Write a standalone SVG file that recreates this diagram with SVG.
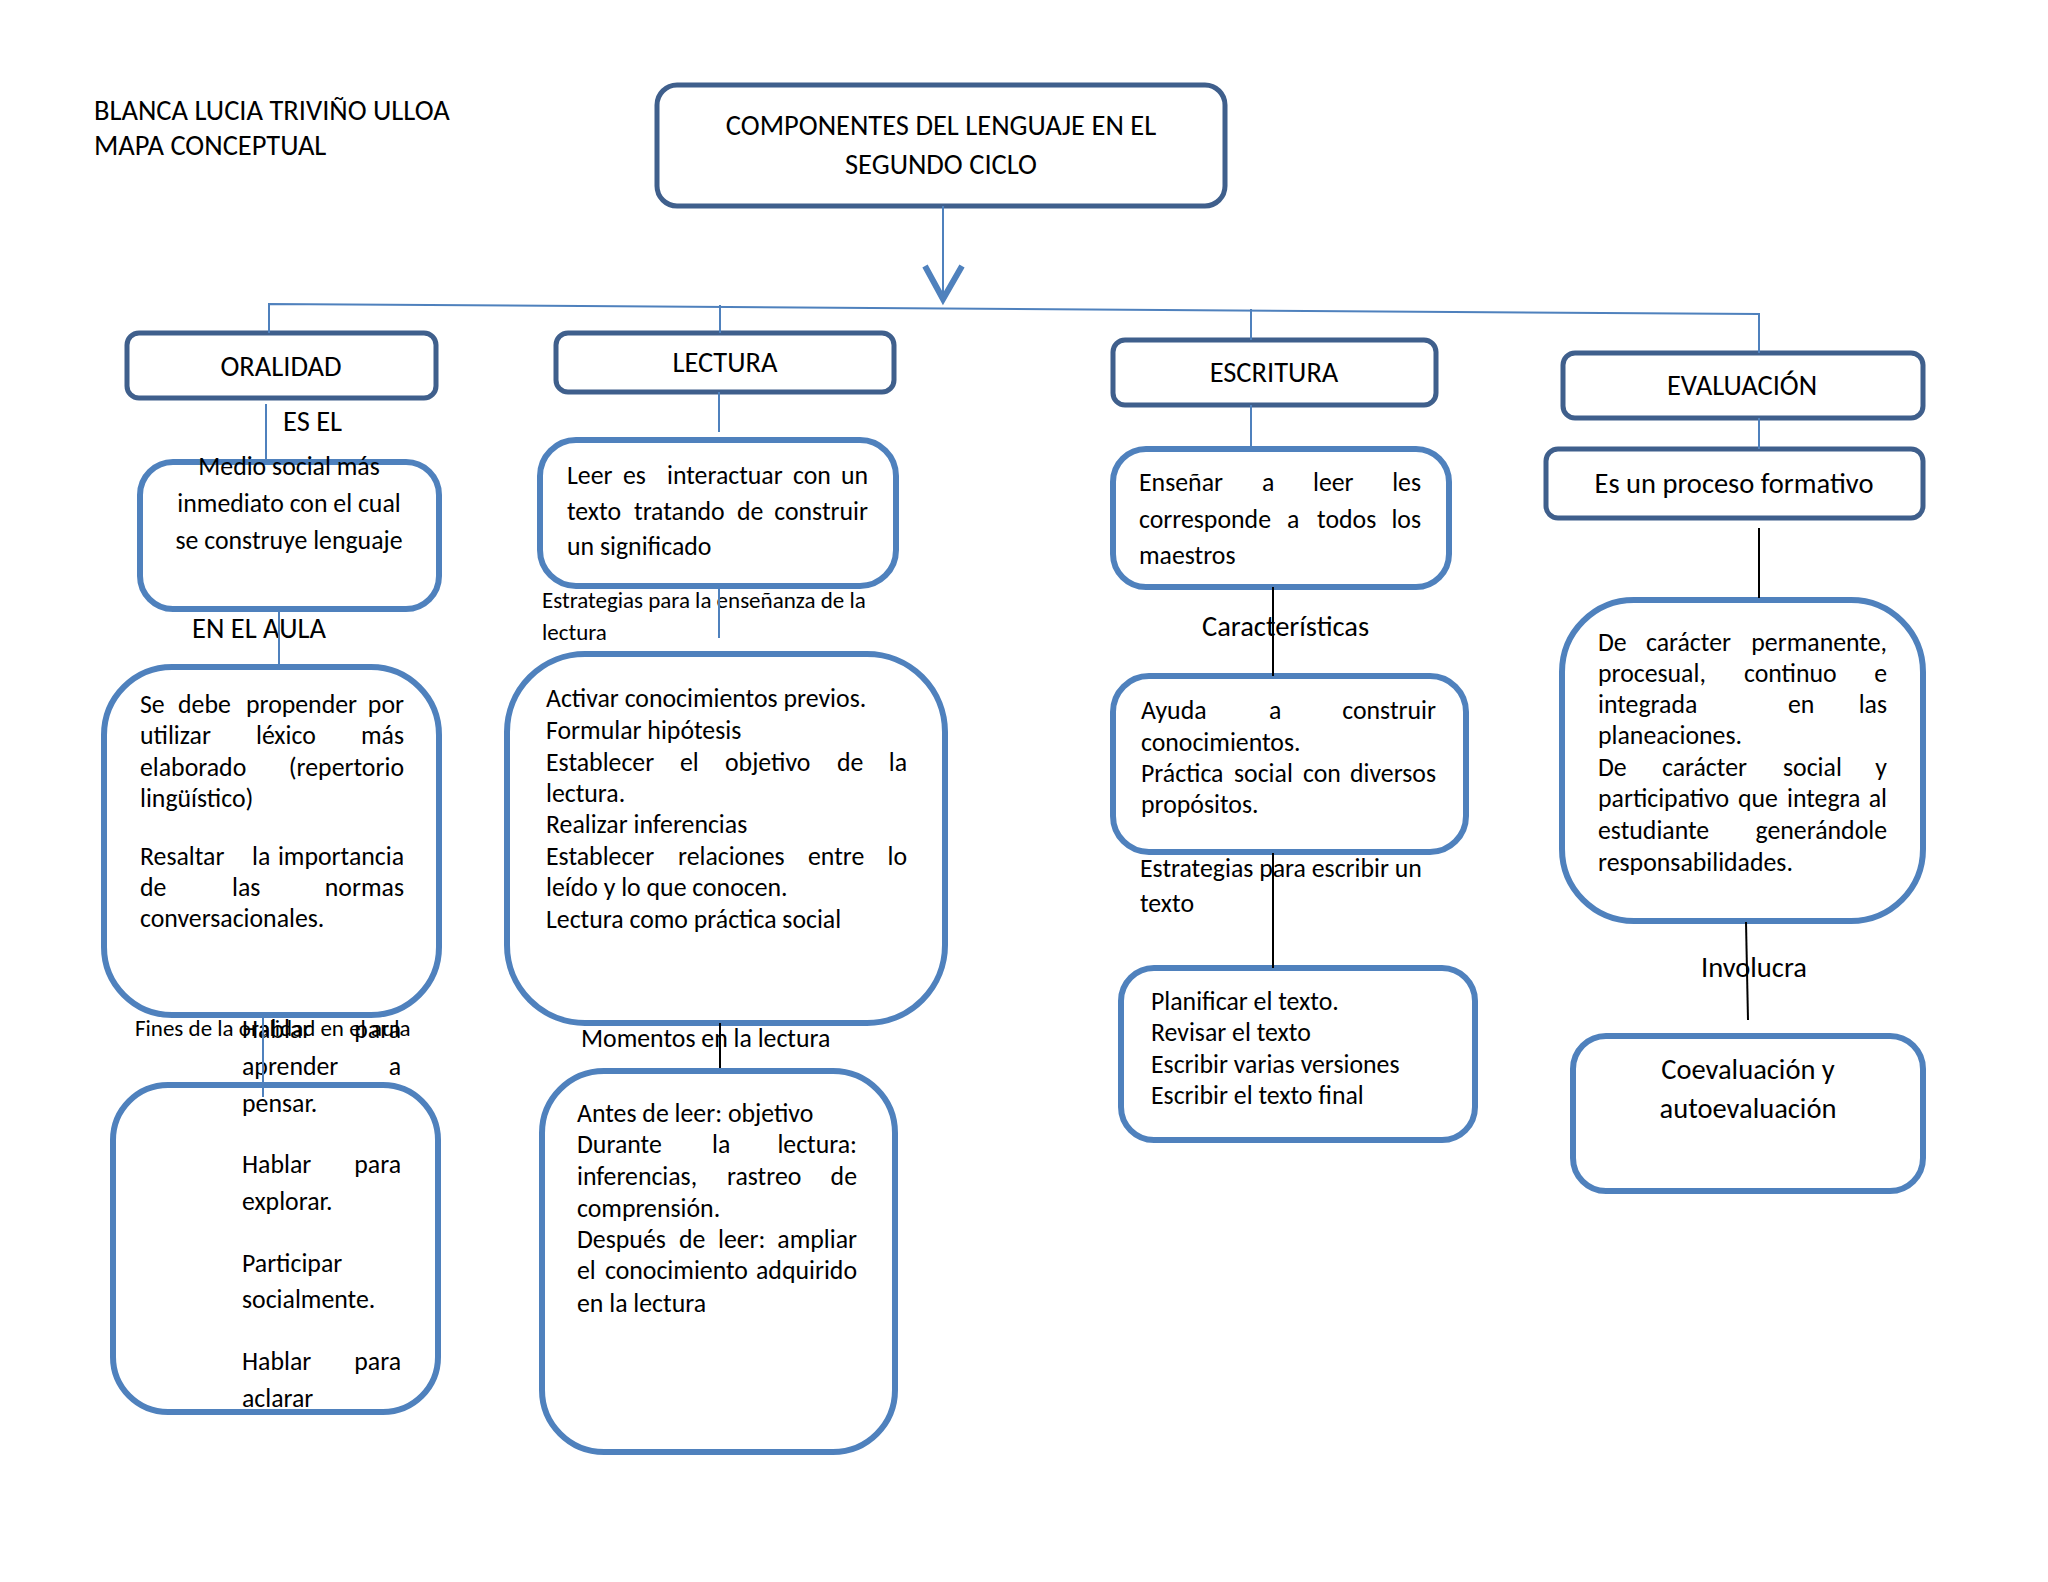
<svg xmlns="http://www.w3.org/2000/svg" width="2048" height="1582" viewBox="0 0 2048 1582">
<style>
.hdr{fill:#fff;stroke:#3F5F8C;stroke-width:5}
.box{fill:#fff;stroke:#4F81BD;stroke-width:6}
text{font-family:Carlito,Lato,"Liberation Sans",sans-serif;fill:#000}
.h{font-size:28.5px}
.b{font-size:25.8px}
.s{font-size:23px}
.l{font-size:28.5px}
.c{text-anchor:middle}
.e{text-anchor:end}
.cb{stroke:#4F81BD;stroke-width:2;fill:none}
.ck{stroke:#000;stroke-width:2;fill:none}
</style>
<rect width="2048" height="1582" fill="#fff"/>
<g id="author">
<text class="h" x="94" y="120">BLANCA LUCIA TRIVIÑO ULLOA</text>
<text class="h" x="94" y="155">MAPA CONCEPTUAL</text>
</g>
<g id="title">
<rect class="hdr" x="657" y="85" width="568" height="121" rx="20"/>
<text class="h c" x="941" y="135">COMPONENTES DEL LENGUAJE EN EL</text>
<text class="h c" x="941" y="174">SEGUNDO CICLO</text>
</g>
<g id="oralidad">
<rect class="hdr" x="127" y="333" width="309" height="65" rx="12"/>
<text class="h c" x="281" y="376">ORALIDAD</text>
</g>
<g id="lectura">
<rect class="hdr" x="556" y="333" width="338" height="59" rx="12"/>
<text class="h c" x="725" y="372">LECTURA</text>
</g>
<g id="escritura">
<rect class="hdr" x="1113" y="340" width="323" height="65" rx="12"/>
<text class="h c" x="1274" y="382">ESCRITURA</text>
</g>
<g id="evaluacion">
<rect class="hdr" x="1563" y="353" width="360" height="65" rx="12"/>
<text class="h c" x="1742" y="395">EVALUACIÓN</text>
</g>
<g id="medio">
<rect class="box" x="140" y="462" width="299" height="147" rx="33"/>
<text class="b c" x="289" y="475">Medio social más</text>
<text class="b c" x="289" y="512">inmediato con el cual</text>
<text class="b c" x="289" y="549">se construye lenguaje</text>
</g>
<g id="aula">
<rect class="box" x="104" y="667" width="335" height="348" rx="68"/>
<text class="b" x="140" y="713">Se<tspan x="178">debe</tspan><tspan x="246">propender</tspan><tspan class="e" x="404">por</tspan></text>
<text class="b" x="140" y="744">utilizar<tspan x="256">léxico</tspan><tspan class="e" x="404">más</tspan></text>
<text class="b" x="140" y="776">elaborado<tspan class="e" x="404">(repertorio</tspan></text>
<text class="b" x="140" y="807">lingüístico)</text>
<text class="b" x="140" y="865">Resaltar<tspan x="252">la</tspan><tspan class="e" x="404">importancia</tspan></text>
<text class="b" x="140" y="896">de<tspan x="232">las</tspan><tspan class="e" x="404">normas</tspan></text>
<text class="b" x="140" y="927">conversacionales.</text>
</g>
<g id="fines">
<rect class="box" x="113" y="1085" width="325" height="327" rx="55"/>
<text class="b" x="242" y="1038">Hablar<tspan class="e" x="401">para</tspan></text>
<text class="b" x="242" y="1075">aprender<tspan class="e" x="401">a</tspan></text>
<text class="b" x="242" y="1112">pensar.</text>
<text class="b" x="242" y="1173">Hablar<tspan class="e" x="401">para</tspan></text>
<text class="b" x="242" y="1210">explorar.</text>
<text class="b" x="242" y="1272">Participar</text>
<text class="b" x="242" y="1308">socialmente.</text>
<text class="b" x="242" y="1370">Hablar<tspan class="e" x="401">para</tspan></text>
<text class="b" x="242" y="1407">aclarar</text>
</g>
<g id="leer">
<rect class="box" x="540" y="440" width="356" height="146" rx="36"/>
<text class="b" x="567" y="484">Leer<tspan x="623">es</tspan><tspan x="667">interactuar</tspan><tspan x="793">con</tspan><tspan class="e" x="868">un</tspan></text>
<text class="b" x="567" y="520">texto<tspan x="634">tratando</tspan><tspan x="737">de</tspan><tspan class="e" x="868">construir</tspan></text>
<text class="b" x="567" y="555">un significado</text>
</g>
<g id="activar">
<rect class="box" x="507" y="654" width="438" height="369" rx="78"/>
<text class="b" x="546" y="707">Activar conocimientos previos.</text>
<text class="b" x="546" y="739">Formular hipótesis</text>
<text class="b" x="546" y="771">Establecer<tspan x="680">el</tspan><tspan x="725">objetivo</tspan><tspan x="837">de</tspan><tspan class="e" x="907">la</tspan></text>
<text class="b" x="546" y="802">lectura.</text>
<text class="b" x="546" y="833">Realizar inferencias</text>
<text class="b" x="546" y="865">Establecer<tspan x="678">relaciones</tspan><tspan x="808">entre</tspan><tspan class="e" x="907">lo</tspan></text>
<text class="b" x="546" y="896">leído y lo que conocen.</text>
<text class="b" x="546" y="928">Lectura como práctica social</text>
</g>
<g id="momentos">
<rect class="box" x="542" y="1071" width="353" height="381" rx="62"/>
<text class="b" x="577" y="1122">Antes de leer: objetivo</text>
<text class="b" x="577" y="1153">Durante<tspan x="712">la</tspan><tspan class="e" x="857">lectura:</tspan></text>
<text class="b" x="577" y="1185">inferencias,<tspan x="727">rastreo</tspan><tspan class="e" x="857">de</tspan></text>
<text class="b" x="577" y="1217">comprensión.</text>
<text class="b" x="577" y="1248">Después<tspan x="679">de</tspan><tspan x="718">leer:</tspan><tspan class="e" x="857">ampliar</tspan></text>
<text class="b" x="577" y="1279">el<tspan x="605">conocimiento</tspan><tspan class="e" x="857">adquirido</tspan></text>
<text class="b" x="577" y="1312">en la lectura</text>
</g>
<g id="ensenar">
<rect class="box" x="1113" y="449" width="336" height="138" rx="33"/>
<text class="b" x="1139" y="491">Enseñar<tspan x="1262">a</tspan><tspan x="1313">leer</tspan><tspan class="e" x="1421">les</tspan></text>
<text class="b" x="1139" y="528">corresponde<tspan x="1287">a</tspan><tspan x="1317">todos</tspan><tspan class="e" x="1421">los</tspan></text>
<text class="b" x="1139" y="564">maestros</text>
</g>
<g id="ayuda">
<rect class="box" x="1113" y="676" width="353" height="176" rx="36"/>
<text class="b" x="1141" y="719">Ayuda<tspan x="1269">a</tspan><tspan class="e" x="1436">construir</tspan></text>
<text class="b" x="1141" y="751">conocimientos.</text>
<text class="b" x="1141" y="782">Práctica<tspan x="1234">social</tspan><tspan x="1303">con</tspan><tspan class="e" x="1436">diversos</tspan></text>
<text class="b" x="1141" y="813">propósitos.</text>
</g>
<g id="planificar">
<rect class="box" x="1121" y="968" width="354" height="172" rx="33"/>
<text class="b" x="1151" y="1010">Planificar el texto.</text>
<text class="b" x="1151" y="1041">Revisar el texto</text>
<text class="b" x="1151" y="1073">Escribir varias versiones</text>
<text class="b" x="1151" y="1104">Escribir el texto final</text>
</g>
<g id="proceso">
<rect class="hdr" x="1546" y="449" width="377" height="69" rx="12"/>
<text class="h c" x="1734" y="493">Es un proceso formativo</text>
</g>
<g id="caracter">
<rect class="box" x="1562" y="600" width="361" height="321" rx="72"/>
<text class="b" x="1598" y="651">De<tspan x="1646">carácter</tspan><tspan class="e" x="1887">permanente,</tspan></text>
<text class="b" x="1598" y="682">procesual,<tspan x="1744">continuo</tspan><tspan class="e" x="1887">e</tspan></text>
<text class="b" x="1598" y="713">integrada<tspan x="1788">en</tspan><tspan class="e" x="1887">las</tspan></text>
<text class="b" x="1598" y="744">planeaciones.</text>
<text class="b" x="1598" y="776">De<tspan x="1662">carácter</tspan><tspan x="1783">social</tspan><tspan class="e" x="1887">y</tspan></text>
<text class="b" x="1598" y="807">participativo<tspan x="1738">que</tspan><tspan x="1787">integra</tspan><tspan class="e" x="1887">al</tspan></text>
<text class="b" x="1598" y="839">estudiante<tspan class="e" x="1887">generándole</tspan></text>
<text class="b" x="1598" y="871">responsabilidades.</text>
</g>
<g id="coevaluacion">
<rect class="box" x="1573" y="1036" width="350" height="155" rx="33"/>
<text class="h c" x="1748" y="1079">Coevaluación y</text>
<text class="h c" x="1748" y="1118">autoevaluación</text>
</g>
<g id="labels">
<text class="l" x="283" y="431">ES EL</text>
<text class="l" x="192" y="638">EN EL AULA</text>
<text class="s" x="135" y="1036">Fines de la oralidad en el aula</text>
<text class="s" x="542" y="608">Estrategias para la enseñanza de la</text>
<text class="s" x="542" y="640">lectura</text>
<text class="b" x="581" y="1047">Momentos en la lectura</text>
<text class="l" x="1202" y="636">Características</text>
<text class="b" x="1140" y="877">Estrategias para escribir un</text>
<text class="b" x="1140" y="912">texto</text>
<text class="l" x="1701" y="977">Involucra</text>
</g>
<g id="connectors">
<line class="cb" x1="943" y1="206" x2="943" y2="296"/>
<polyline points="925,266 943,299 962,266" fill="none" stroke="#4F81BD" stroke-width="6" stroke-linejoin="miter"/>
<polyline class="cb" points="269,333 269,304 1759,314 1759,353"/>
<line class="cb" x1="720" y1="305" x2="720" y2="333"/>
<line class="cb" x1="1251" y1="309" x2="1251" y2="340"/>
<line class="cb" x1="266" y1="404" x2="266" y2="462"/>
<line class="cb" x1="279" y1="609" x2="279" y2="667"/>
<line class="cb" x1="263" y1="1018" x2="263" y2="1097"/>
<line class="cb" x1="719" y1="392" x2="719" y2="432"/>
<line class="cb" x1="719" y1="589" x2="719" y2="638"/>
<line class="cb" x1="1251" y1="405" x2="1251" y2="449"/>
<line class="cb" x1="1759" y1="418" x2="1759" y2="449"/>
<line class="ck" x1="720" y1="1023" x2="720" y2="1068"/>
<line class="ck" x1="1273" y1="587" x2="1273" y2="676"/>
<line class="ck" x1="1273" y1="853" x2="1273" y2="968"/>
<line class="ck" x1="1759" y1="528" x2="1759" y2="598"/>
<line class="ck" x1="1746" y1="922" x2="1748" y2="1020"/>
</g>
</svg>
